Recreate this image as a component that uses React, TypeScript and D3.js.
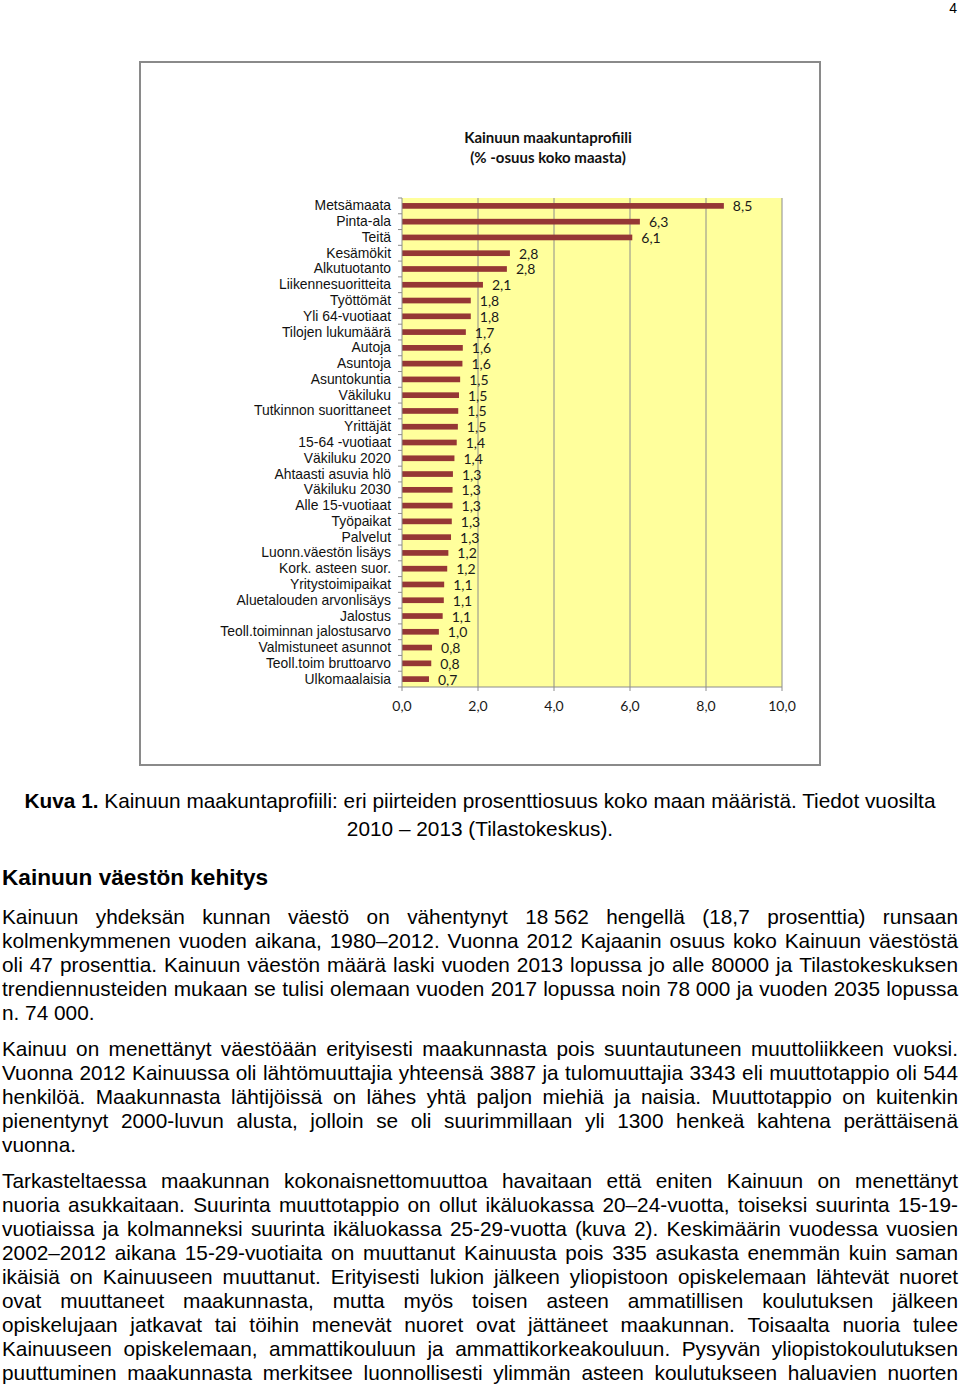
import React, { useMemo } from "react";
import * as d3 from "d3";

// chart data
const categories = [
  "Metsämaata", "Pinta-ala", "Teitä", "Kesämökit", "Alkutuotanto",
  "Liikennesuoritteita", "Työttömät", "Yli 64-vuotiaat", "Tilojen lukumäärä", "Autoja",
  "Asuntoja", "Asuntokuntia", "Väkiluku", "Tutkinnon suorittaneet", "Yrittäjät",
  "15-64 -vuotiaat", "Väkiluku 2020", "Ahtaasti asuvia hlö", "Väkiluku 2030", "Alle 15-vuotiaat",
  "Työpaikat", "Palvelut", "Luonn.väestön lisäys", "Kork. asteen suor.", "Yritystoimipaikat",
  "Aluetalouden arvonlisäys", "Jalostus", "Teoll.toiminnan jalostusarvo", "Valmistuneet asunnot",
  "Teoll.toim bruttoarvo", "Ulkomaalaisia",
];
const values = [
  8.47, 6.26, 6.06, 2.84, 2.76,
  2.13, 1.81, 1.81, 1.68, 1.6,
  1.59, 1.53, 1.5, 1.48, 1.47,
  1.44, 1.38, 1.34, 1.33, 1.33,
  1.31, 1.29, 1.22, 1.19, 1.11,
  1.1, 1.07, 0.97, 0.79, 0.77, 0.71,
];
const xTicks = [0, 2, 4, 6, 8, 10];
const titleLines = ["Kainuun maakuntaprofiili", "(% -osuus koko maasta)"];

// document text around the figure
const captionBold = "Kuva 1.";
const captionRest = " Kainuun maakuntaprofiili: eri piirteiden prosenttiosuus koko maan määristä. Tiedot vuosilta";
const captionLine2 = "2010 – 2013 (Tilastokeskus).";
const heading = "Kainuun väestön kehitys";
const para1 = [
  "Kainuun yhdeksän kunnan väestö on vähentynyt 18\u00A0562 hengellä (18,7 prosenttia) runsaan",
  "kolmenkymmenen vuoden aikana, 1980–2012. Vuonna 2012 Kajaanin osuus koko Kainuun väestöstä",
  "oli 47 prosenttia. Kainuun väestön määrä laski vuoden 2013 lopussa jo alle 80000 ja Tilastokeskuksen",
  "trendiennusteiden mukaan se tulisi olemaan vuoden 2017 lopussa noin 78\u00A0000 ja vuoden 2035 lopussa",
  "n. 74\u00A0000.",
];
const para2 = [
  "Kainuu on menettänyt väestöään erityisesti maakunnasta pois suuntautuneen muuttoliikkeen vuoksi.",
  "Vuonna 2012 Kainuussa oli lähtömuuttajia yhteensä 3887 ja tulomuuttajia 3343 eli muuttotappio oli 544",
  "henkilöä. Maakunnasta lähtijöissä on lähes yhtä paljon miehiä ja naisia. Muuttotappio on kuitenkin",
  "pienentynyt 2000-luvun alusta, jolloin se oli suurimmillaan yli 1300 henkeä kahtena perättäisenä",
  "vuonna.",
];
const para3 = [
  "Tarkasteltaessa maakunnan kokonaisnettomuuttoa havaitaan että eniten Kainuun on menettänyt",
  "nuoria asukkaitaan. Suurinta muuttotappio on ollut ikäluokassa 20–24-vuotta, toiseksi suurinta 15-19-",
  "vuotiaissa ja kolmanneksi suurinta ikäluokassa 25-29-vuotta (kuva 2). Keskimäärin vuodessa vuosien",
  "2002–2012 aikana 15-29-vuotiaita on muuttanut Kainuusta pois 335 asukasta enemmän kuin saman",
  "ikäisiä on Kainuuseen muuttanut. Erityisesti lukion jälkeen yliopistoon opiskelemaan lähtevät nuoret",
  "ovat muuttaneet maakunnasta, mutta myös toisen asteen ammatillisen koulutuksen jälkeen",
  "opiskelujaan jatkavat tai töihin menevät nuoret ovat jättäneet maakunnan. Toisaalta nuoria tulee",
  "Kainuuseen opiskelemaan, ammattikouluun ja ammattikorkeakouluun. Pysyvän yliopistokoulutuksen",
  "puuttuminen maakunnasta merkitsee luonnollisesti ylimmän asteen koulutukseen haluavien nuorten",
];

const SANS = "'Liberation Sans', Arial, sans-serif";
const CAL = "Lato, 'Open Sans', sans-serif";
const BODY_SIZE = 20.8;

let ctx: CanvasRenderingContext2D | null = null;
function measure(t: string, font: string) {
  if (!ctx) ctx = document.createElement("canvas").getContext("2d");
  ctx!.font = font;
  return ctx!.measureText(t).width;
}

function TextLine({ text, y, justify }: { text: string; y: number; justify: boolean }) {
  const left = 2, width = 956;
  const font = `${BODY_SIZE}px 'Liberation Sans'`;
  const words = text.split(" ");
  const widths = words.map((w) => measure(w, font));
  const sum = d3.sum(widths);
  let gap = measure(" ", font);
  let s = 1;
  if (justify && words.length > 1) {
    gap = (width - sum) / (words.length - 1);
    if (gap < 3) {
      gap = 3;
      s = (width - gap * (words.length - 1)) / sum;
    }
  }
  let x = left;
  return (
    <g>
      {words.map((w, i) => {
        const el = (
          <text key={i} x={x} y={y} fontFamily={SANS} fontSize={BODY_SIZE}
            {...(s < 1 ? { textLength: widths[i] * s, lengthAdjust: "spacingAndGlyphs" } : {})}>
            {w}
          </text>
        );
        x += widths[i] * s + gap;
        return el;
      })}
    </g>
  );
}

function Paragraph({ lines, y0 }: { lines: string[]; y0: number }) {
  return (
    <g>
      {lines.map((l, i) => (
        <TextLine key={i} text={l} y={y0 + i * 24}
          justify={i < lines.length - 1 || lines === para3} />
      ))}
    </g>
  );
}

export default function App() {
  const x = useMemo(() => d3.scaleLinear().domain([0, 10]).range([402, 782]), []);
  const y = useMemo(
    () => d3.scaleBand<string>().domain(categories).range([198, 687]).paddingInner(0.64).paddingOuter(0.32),
    []
  );
  const step = (687 - 198) / categories.length;
  const fmt = (v: number) => v.toFixed(1).replace(".", ",");

  return (
    <svg width={960} height={1387} style={{ position: "absolute", left: 0, top: 0 }}>
      <rect width={960} height={1387} fill="#fff" />
      <text x={957} y={13} textAnchor="end" fontFamily={SANS} fontSize={14}>4</text>

      {/* chart frame */}
      <rect x={140} y={62} width={680} height={703} fill="#fff" stroke="#8a8a8a" strokeWidth={2} />
      {titleLines.map((t, i) => (
        <text key={t} x={548} y={143 + i * 20} textAnchor="middle" fontFamily={CAL}
          fontWeight="bold" fontSize={15} fill="#111">{t}</text>
      ))}

      {/* plot area */}
      <rect x={x(0)} y={198} width={x(10) - x(0)} height={489} fill="#ffff9c" />
      {xTicks.filter((t) => t > 0).map((t) => (
        <line key={t} x1={x(t)} x2={x(t)} y1={198} y2={687} stroke="#8c8c8c" strokeWidth={1} />
      ))}
      {values.map((v, i) => (
        <rect key={i} x={x(0)} y={y(categories[i])!} width={x(v) - x(0)} height={y.bandwidth()} fill="#953735" />
      ))}
      {values.map((v, i) => (
        <text key={i} x={x(v) + 9} y={y(categories[i])! + y.bandwidth() / 2 + 5.5}
          fontFamily={CAL} fontSize={14} fill="#1a1a1a">{fmt(v)}</text>
      ))}

      {/* y axis */}
      <line x1={x(0)} x2={x(0)} y1={198} y2={687} stroke="#8c8c8c" />
      {d3.range(categories.length + 1).map((i) => (
        <line key={i} x1={x(0) - 4} x2={x(0)} y1={198 + i * step} y2={198 + i * step} stroke="#8c8c8c" />
      ))}
      {categories.map((c) => (
        <text key={c} x={391} y={y(c)! + y.bandwidth() / 2 + 4.5} textAnchor="end"
          fontFamily={SANS} fontSize={13.9} fill="#111">{c}</text>
      ))}

      {/* x axis */}
      <line x1={x(0)} x2={x(10)} y1={687} y2={687} stroke="#8c8c8c" />
      {xTicks.map((t) => (
        <g key={t}>
          <line x1={x(t)} x2={x(t)} y1={687} y2={691} stroke="#8c8c8c" />
          <text x={x(t)} y={711} textAnchor="middle" fontFamily={CAL} fontSize={14} fill="#1a1a1a">{fmt(t)}</text>
        </g>
      ))}

      {/* caption and body text */}
      <text x={480} y={808} textAnchor="middle" fontFamily={SANS} fontSize={BODY_SIZE}>
        <tspan fontWeight="bold">{captionBold}</tspan>
        <tspan>{captionRest}</tspan>
      </text>
      <text x={480} y={836} textAnchor="middle" fontFamily={SANS} fontSize={BODY_SIZE}>{captionLine2}</text>
      <text x={2} y={885} fontFamily={SANS} fontSize={22.6} fontWeight="bold">{heading}</text>

      <Paragraph lines={para1} y0={924} />
      <Paragraph lines={para2} y0={1056} />
      <Paragraph lines={para3} y0={1188} />
    </svg>
  );
}
